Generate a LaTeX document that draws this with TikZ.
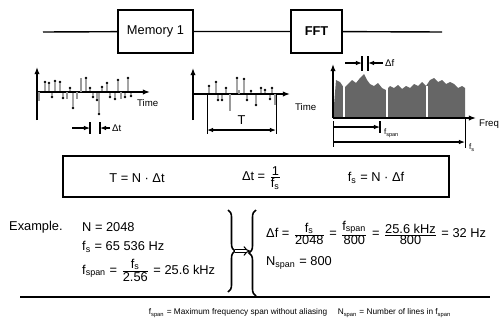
\documentclass[tikz,border=0pt]{standalone}
\usepackage{fontspec}
\setmainfont{Liberation Sans}
\usetikzlibrary{arrows.meta,decorations.pathreplacing,positioning}
\newcommand{\fr}[2]{$\frac{\mbox{#1}}{\mbox{#2}}$}

\begin{document}
\begin{tikzpicture}[x=0.02cm, y=-0.02cm,
    font=\fontsize{7.3}{9}\selectfont,
    block/.style={draw, line width=1pt, minimum height=0.86cm, inner sep=2pt},
    wire/.style={line width=0.8pt},
    axis/.style={-{Latex[length=4pt]}, line width=0.9pt},
    stem/.style={line width=0.5pt},
    gstem/.style={line width=1.3pt, black!40},
    tip/.style={-{Latex[length=3.5pt]}, line width=0.6pt},
    bar/.style={line width=1pt},
    lbl/.style={font=\fontsize{5.5}{6}\selectfont, inner sep=1pt},
    sub/.style={font=\fontsize{4.5}{5}\selectfont, inner sep=1pt},
    brc/.style={decorate, decoration={brace, amplitude=4pt}, line width=0.9pt}
  ]
  \useasboundingbox (0,0) rectangle (500,325);

  \coordinate (in) at (43,32);
  \node[block, minimum width=1.5cm] (mem) at (155.5,31.5) {Memory 1};
  \node[block, minimum width=1.02cm] (fft) at (316.5,31.5) {\textbf{FFT}};
  \coordinate (out) at (442,32);
  \draw[wire] (in) -- (mem) -- (fft) -- (out);

  \draw[axis] (37,120) -- (37,67);
  \draw[axis] (37,92) -- (150,92);
  \node[lbl, anchor=west] (time1) at (135,103) {Time};
  \foreach \x/\h in {45/10,49/9,52/-5,55/11,60/10,63/-6,70/4,73/-16,86/14,90/4,
      93/-5,97/-8,99/-22,102/5,107/9,110/-5,115/-7,118/12,125/-5,128/14,131/-4}
    \draw[stem] (\x,92) -- ++(0,-\h) circle[radius=0.8];
  \foreach \x/\h in {39/-9,67/-7,77/-7,81/14,121/-7}
    \draw[gstem] (\x,92) -- ++(0,-\h);
  \coordinate (dt1) at (72,128);
  \coordinate (dt2) at (90,128);
  \coordinate (dt3) at (100,128);
  \coordinate (dt4) at (110,128);
  \draw[tip] (dt1) -- (dt2);
  \draw[tip] (dt4) -- (dt3);
  \draw[bar] (90,122) -- (90,134);
  \draw[bar] (100,122) -- (100,134);
  \node[lbl, anchor=west] (dtl) at (dt4) {Δt};

  \draw[axis] (193,120) -- (193,68);
  \draw[axis] (193,94) -- (290,94);
  \node[lbl, anchor=west] (time2) at (293,107) {Time};
  \foreach \x/\h in {209/8,216/12,218/-6,222/-6,226/6,237/16,244/15,247/-6,251/3,
      256/-11,261/6,265/4,270/-5,272/6}
    \draw[stem] (\x,94) -- ++(0,-\h) circle[radius=0.8];
  \foreach \x/\h in {230/-17,239/4,275/-11}
    \draw[gstem] (\x,94) -- ++(0,-\h);
  \coordinate (ta) at (207,130);
  \coordinate (tb) at (276,130);
  \draw[stem] (207,95) -- (207,134);
  \draw[stem] (276,95) -- (276,134);
  \draw[tip, {Latex[length=3.5pt]}-{Latex[length=3.5pt]}] (ta) -- node[above, inner sep=3pt] {T} (tb);

  \fill[black!60] (333,118) \foreach \x/\y in {336/80,340/82,344/88,348/84,352/80,
      356/83,360/78,364/74,367/80,370/84,374/86,378/83,382/88,386/90,390/86,394/88,
      398/85,402/89,406/86,410/88,414/84,418/86,422/82,426/86,430/80,434/78,438/82,
      442/80,446/84,450/82,454/84,458/88,462/86,465/88} {-- (\x,\y)} -- (465,118) -- cycle;
  \foreach \x in {344,387,427}
    \draw[white, line width=0.8pt] (\x,117) -- (\x,86);
  \draw[axis] (333,118) -- (476,118);
  \draw[axis] (333,118) -- (333,64);
  \node[lbl, anchor=west] (freq) at (477,124) {Freq};
  \coordinate (df1) at (345,63);
  \coordinate (df2) at (362,63);
  \coordinate (df3) at (368,63);
  \coordinate (df4) at (383,63);
  \draw[tip] (df1) -- (df2);
  \draw[tip] (df4) -- (df3);
  \draw[bar] (362,56) -- (362,71);
  \draw[bar] (368,56) -- (368,71);
  \node[lbl, anchor=west] (dfl) at (df4) {Δf};
  \coordinate (sp1) at (333,127);
  \coordinate (sp2) at (380,127);
  \coordinate (fs1) at (333,142);
  \coordinate (fs2) at (465,142);
  \draw[stem] (333,121) -- (333,147);
  \draw[stem] (465,118) -- (465,148);
  \draw[tip] (sp1) -- (sp2);
  \draw[bar] (380,121) -- (380,133);
  \draw[tip] (fs1) -- (fs2);
  \node[sub, anchor=north west] (spl) at (382,127) {f\textsubscript{span}};
  \node[sub, anchor=north west] (fsl) at (467,142) {f\textsubscript{s}};

  \draw[line width=1pt] (63,156) rectangle (449,197);
  \node (eq1) at (137,178) {T = N · Δt};
  \node (eq2) at (262,178) {Δt = \fr{1}{f\textsubscript{s}}};
  \node (eq3) at (376,178) {f\textsubscript{s} = N · Δf};

  \node[anchor=west] (ex) at (3,227) {Example.};
  \node[anchor=west] (n) at (76,227) {N = 2048};
  \node[anchor=west] (fs) at (76,247) {f\textsubscript{s} = 65 536 Hz};
  \node[anchor=west] (fspan) at (76,270) {f\textsubscript{span} = \fr{f\textsubscript{s}}{2.56} = 25.6 kHz};

  \draw[brc] (228,210) -- (228,292);
  \draw[brc] (256,296) -- (256,210);
  \coordinate (bl) at (235,251);
  \coordinate (br) at (250,251);
  \draw[double, double distance=1.2pt, line width=0.6pt, -{Implies}] (bl) -- (br);

  \node[anchor=west] (df) at (260,233) {Δf = \fr{f\textsubscript{s}}{2048} = \fr{f\textsubscript{span}}{800} = \fr{25.6 kHz}{800} = 32 Hz};
  \node[anchor=west] (ns) at (260,263) {N\textsubscript{span} = 800};

  \draw[line width=1.6pt] (20,297) -- (490,297);
  \node[font=\fontsize{4.7}{5}\selectfont] (leg) at (300,313) {f\textsubscript{span} = Maximum frequency span without aliasing \quad N\textsubscript{span} = Number of lines in f\textsubscript{span}};
\end{tikzpicture}
\end{document}
